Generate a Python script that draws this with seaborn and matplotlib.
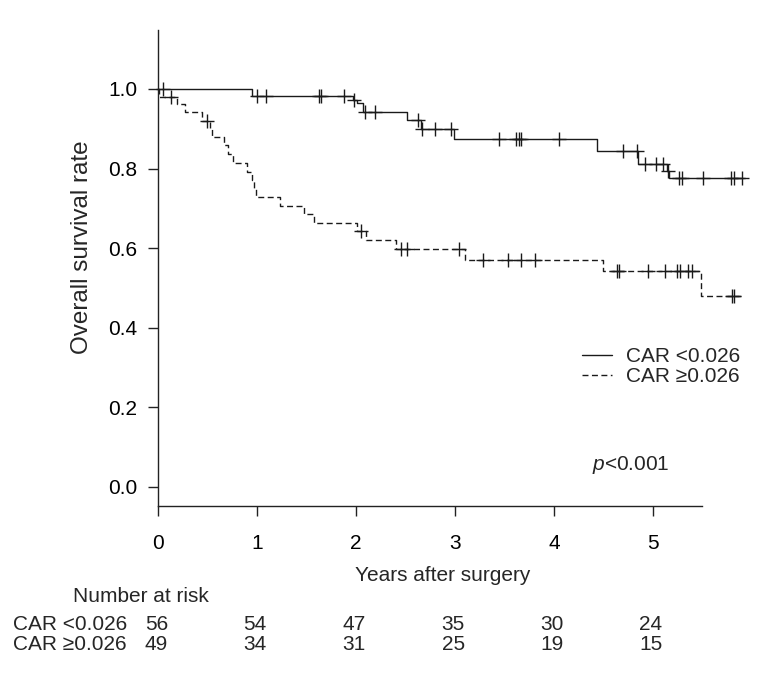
import numpy as np
import pandas as pd
import seaborn as sns
import matplotlib
matplotlib.use("Agg")
from matplotlib import pyplot as plt
from matplotlib import transforms
from matplotlib.lines import Line2D

# group labels
groups = ["CAR <0.026", "CAR \u22650.026"]

# CAR <0.026 : event times (years) and survival after each event
low_times = [0.95, 1.97, 2.01, 2.07, 2.51, 2.66, 2.99, 4.44, 4.85, 5.14, 5.16]
low_surv = [0.982, 0.973, 0.964, 0.943, 0.922, 0.899, 0.874, 0.845, 0.811, 0.794, 0.776]
low_end = 5.93
low_censor = [0.05, 1.00, 1.09, 1.62, 1.64, 1.88, 1.98, 2.09, 2.19, 2.63, 2.67, 2.80, 2.96,
              3.44, 3.62, 3.65, 3.67, 4.05, 4.70, 4.84, 4.92, 5.03, 5.10, 5.15, 5.26, 5.29,
              5.51, 5.79, 5.82, 5.90]

# CAR >=0.026
high_times = [0.01, 0.19, 0.27, 0.44, 0.52, 0.54, 0.66, 0.70, 0.76, 0.895, 0.945, 0.97, 0.985,
              1.23, 1.47, 1.57, 2.01, 2.10, 2.40, 3.10, 4.50, 5.49]
high_surv = [0.980, 0.962, 0.941, 0.920, 0.899, 0.878, 0.858, 0.837, 0.815, 0.792, 0.771, 0.750,
             0.728, 0.706, 0.685, 0.664, 0.643, 0.620, 0.598, 0.570, 0.543, 0.481]
high_end = 5.89
high_censor = [0.125, 0.49, 2.05, 2.45, 2.51, 3.04, 3.28, 3.54, 3.67, 3.81, 4.64, 4.66, 4.95,
               5.12, 5.24, 5.27, 5.35, 5.40, 5.80, 5.82]

# number at risk table
risk_years = [0, 1, 2, 3, 4, 5]
risk_low = [56, 54, 47, 35, 30, 24]
risk_high = [49, 34, 31, 25, 19, 15]

p_text = "$p$<0.001"


def curve_frame(times, surv, end, name):
    t = [0.0] + list(times) + [end]
    s = [1.0] + list(surv) + [surv[-1]]
    return pd.DataFrame({"time": t, "surv": s, "group": name})


def censor_frame(times, surv, censor, name):
    t = np.array([0.0] + list(times))
    s = np.array([1.0] + list(surv))
    idx = np.searchsorted(t, censor, side="right") - 1
    return pd.DataFrame({"time": censor, "surv": s[idx], "group": name})


sns.set_style("ticks")
plt.rcParams["font.family"] = ["Liberation Sans", "DejaVu Sans"]
plt.rcParams["mathtext.fontset"] = "custom"
plt.rcParams["mathtext.it"] = "Liberation Sans:italic"
plt.rcParams["mathtext.rm"] = "Liberation Sans"
plt.rcParams["axes.edgecolor"] = "#222222"
plt.rcParams["axes.linewidth"] = 1.0

ink = "#1a1a1a"
fs = 15

df_lines = pd.concat([curve_frame(low_times, low_surv, low_end, groups[0]),
                      curve_frame(high_times, high_surv, high_end, groups[1])], ignore_index=True)
df_cens = pd.concat([censor_frame(low_times, low_surv, low_censor, groups[0]),
                     censor_frame(high_times, high_surv, high_censor, groups[1])], ignore_index=True)

fig = plt.figure(figsize=(7.67, 6.82), dpi=100)
ax = fig.add_axes([0.2064, 0.2585, 0.7093, 0.6975])

dash_map = {groups[0]: "", groups[1]: (4.3, 2.5)}
sns.lineplot(data=df_lines, x="time", y="surv", style="group", dashes=dash_map,
             color=ink, estimator=None, sort=False, drawstyle="steps-post",
             linewidth=1.0, legend=False, ax=ax)
sns.scatterplot(data=df_cens, x="time", y="surv", marker="+", color=ink, s=90,
                linewidth=1.0, legend=False, ax=ax)
for ln in ax.lines:
    ln.set_clip_on(False)
for col in ax.collections:
    col.set_clip_on(False)

ax.set_xlim(0, 5.5)
ax.set_ylim(-0.047, 1.148)
ax.set_xticks(risk_years)
ax.set_xticklabels([str(v) for v in risk_years])
ax.set_yticks([0.0, 0.2, 0.4, 0.6, 0.8, 1.0])
ax.set_yticklabels(["0.0", "0.2", "0.4", "0.6", "0.8", "1.0"])
ax.tick_params(axis="x", length=7.2, width=1.0, pad=13.0, labelsize=fs, colors="#222222", labelcolor="black")
ax.tick_params(axis="y", length=7.2, width=1.0, pad=8.0, labelsize=fs, colors="#222222", labelcolor="black")
sns.despine(ax=ax)

ax.set_xlabel("Years after surgery", fontsize=fs)
ax.xaxis.set_label_coords(0.523, -0.1457)
ax.xaxis.label.set_va("center")
ax.set_ylabel("Overall survival rate", fontsize=17.5)
ax.yaxis.set_label_coords(-0.1408, 0.5428)
ax.yaxis.label.set_va("center")

handles = [Line2D([], [], color=ink, lw=1.0, linestyle="-"),
           Line2D([], [], color=ink, lw=1.0, linestyle=(0, (4.3, 2.5)))]
ax.legend(handles, groups, loc="upper left", bbox_to_anchor=(0.778, 0.333), frameon=False,
          fontsize=fs, handlelength=1.47, handletextpad=0.64, labelspacing=0.05,
          borderpad=0, borderaxespad=0)

ax.text(0.798, 0.0856, p_text, transform=ax.transAxes, fontsize=fs, va="center", ha="left")

# number at risk
fig.text(0.1832, 1 - 596.7 / 682, "Number at risk", fontsize=fs, ha="center", va="center")
fig.text(0.0173, 1 - 624.3 / 682, groups[0], fontsize=fs, ha="left", va="center")
fig.text(0.0173, 1 - 645.0 / 682, groups[1], fontsize=fs, ha="left", va="center")
trans = transforms.blended_transform_factory(ax.transData, fig.transFigure)
for yr, a, b in zip(risk_years, risk_low, risk_high):
    ax.text(yr - 0.02, 1 - 624.3 / 682, str(a), transform=trans, fontsize=fs, ha="center", va="center", clip_on=False)
    ax.text(yr - 0.02, 1 - 645.0 / 682, str(b), transform=trans, fontsize=fs, ha="center", va="center", clip_on=False)

fig.savefig("out.png", dpi=100)
